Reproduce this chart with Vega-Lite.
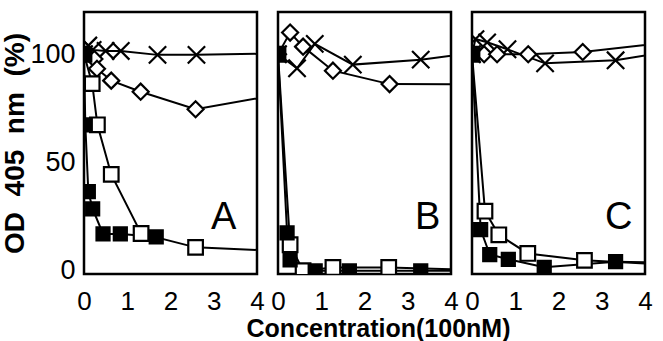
{
  "$schema": "https://vega.github.io/schema/vega-lite/v6.json",
  "background": "white",
  "padding": {"left": 0, "top": 10, "right": 10, "bottom": 5},
  "bounds": "flush",
  "config": {
    "view": {"stroke": "black", "strokeWidth": 2.5},
    "font": "Liberation Sans",
    "axis": {"grid": false, "domain": false, "ticks": false, "labelFont": "Liberation Sans", "titleFont": "Liberation Sans", "labelColor": "black", "titleColor": "black"}
  },
  "datasets": {
    "pts": [
      {"panel": "A", "series": "cross", "x": 0, "y": 100},
      {"panel": "A", "series": "cross", "x": 0.1, "y": 104},
      {"panel": "A", "series": "cross", "x": 0.2, "y": 102},
      {"panel": "A", "series": "cross", "x": 0.5, "y": 101.5},
      {"panel": "A", "series": "cross", "x": 0.85, "y": 101.5},
      {"panel": "A", "series": "cross", "x": 1.7, "y": 99.7},
      {"panel": "A", "series": "cross", "x": 2.6, "y": 99.7},
      {"panel": "A", "series": "cross", "x": 5.2, "y": 100.6},
      {"panel": "A", "series": "diamond", "x": 0, "y": 100},
      {"panel": "A", "series": "diamond", "x": 0.24, "y": 97.8},
      {"panel": "A", "series": "diamond", "x": 0.3, "y": 93.3},
      {"panel": "A", "series": "diamond", "x": 0.63, "y": 87.8},
      {"panel": "A", "series": "diamond", "x": 1.31, "y": 82.7},
      {"panel": "A", "series": "diamond", "x": 2.58, "y": 74.6},
      {"panel": "A", "series": "diamond", "x": 5.2, "y": 83.8},
      {"panel": "A", "series": "open", "x": 0, "y": 100},
      {"panel": "A", "series": "open", "x": 0.19, "y": 86.4},
      {"panel": "A", "series": "open", "x": 0.31, "y": 67.4},
      {"panel": "A", "series": "open", "x": 0.63, "y": 44.5},
      {"panel": "A", "series": "open", "x": 1.32, "y": 17.2},
      {"panel": "A", "series": "open", "x": 2.58, "y": 10.8},
      {"panel": "A", "series": "open", "x": 5.2, "y": 8.6},
      {"panel": "A", "series": "filled", "x": 0, "y": 100},
      {"panel": "A", "series": "filled", "x": 0.03, "y": 67.4},
      {"panel": "A", "series": "filled", "x": 0.1, "y": 36.5},
      {"panel": "A", "series": "filled", "x": 0.2, "y": 28.6},
      {"panel": "A", "series": "filled", "x": 0.44, "y": 17},
      {"panel": "A", "series": "filled", "x": 0.84, "y": 17},
      {"panel": "A", "series": "filled", "x": 1.67, "y": 15.7},

      {"panel": "B", "series": "cross", "x": 0, "y": 100},
      {"panel": "B", "series": "cross", "x": 0.44, "y": 93.5},
      {"panel": "B", "series": "cross", "x": 0.85, "y": 104.8},
      {"panel": "B", "series": "cross", "x": 1.73, "y": 95.2},
      {"panel": "B", "series": "cross", "x": 3.3, "y": 97.5},
      {"panel": "B", "series": "cross", "x": 6.6, "y": 106},
      {"panel": "B", "series": "diamond", "x": 0, "y": 100},
      {"panel": "B", "series": "diamond", "x": 0.28, "y": 110},
      {"panel": "B", "series": "diamond", "x": 0.58, "y": 103.5},
      {"panel": "B", "series": "diamond", "x": 1.27, "y": 92.4},
      {"panel": "B", "series": "diamond", "x": 2.58, "y": 86.2},
      {"panel": "B", "series": "diamond", "x": 5.2, "y": 86},
      {"panel": "B", "series": "open", "x": 0, "y": 100},
      {"panel": "B", "series": "open", "x": 0.28, "y": 12},
      {"panel": "B", "series": "open", "x": 0.58, "y": 0},
      {"panel": "B", "series": "open", "x": 1.27, "y": 1.5},
      {"panel": "B", "series": "open", "x": 2.56, "y": 1.5},
      {"panel": "B", "series": "open", "x": 5.2, "y": 0},
      {"panel": "B", "series": "filled", "x": 0, "y": 100},
      {"panel": "B", "series": "filled", "x": 0.21, "y": 17.5},
      {"panel": "B", "series": "filled", "x": 0.28, "y": 5},
      {"panel": "B", "series": "filled", "x": 0.86, "y": 0},
      {"panel": "B", "series": "filled", "x": 1.65, "y": 0},
      {"panel": "B", "series": "filled", "x": 3.3, "y": 0},
      {"panel": "B", "series": "filled", "x": 6.6, "y": 0},

      {"panel": "C", "series": "cross", "x": 0, "y": 100},
      {"panel": "C", "series": "cross", "x": 0.08, "y": 107},
      {"panel": "C", "series": "cross", "x": 0.35, "y": 105.5},
      {"panel": "C", "series": "cross", "x": 0.82, "y": 102.3},
      {"panel": "C", "series": "cross", "x": 1.69, "y": 95.8},
      {"panel": "C", "series": "cross", "x": 3.32, "y": 97.2},
      {"panel": "C", "series": "cross", "x": 6.6, "y": 108},
      {"panel": "C", "series": "diamond", "x": 0, "y": 100},
      {"panel": "C", "series": "diamond", "x": 0.28, "y": 100},
      {"panel": "C", "series": "diamond", "x": 0.58, "y": 100},
      {"panel": "C", "series": "diamond", "x": 1.3, "y": 100},
      {"panel": "C", "series": "diamond", "x": 2.56, "y": 101},
      {"panel": "C", "series": "diamond", "x": 5.2, "y": 107},
      {"panel": "C", "series": "open", "x": 0, "y": 100},
      {"panel": "C", "series": "open", "x": 0.3, "y": 27.5},
      {"panel": "C", "series": "open", "x": 0.62, "y": 16.6},
      {"panel": "C", "series": "open", "x": 1.29, "y": 8},
      {"panel": "C", "series": "open", "x": 2.6, "y": 4.8},
      {"panel": "C", "series": "open", "x": 5.2, "y": 2},
      {"panel": "C", "series": "filled", "x": 0, "y": 100},
      {"panel": "C", "series": "filled", "x": 0.2, "y": 19},
      {"panel": "C", "series": "filled", "x": 0.41, "y": 7.5},
      {"panel": "C", "series": "filled", "x": 0.84, "y": 5.3},
      {"panel": "C", "series": "filled", "x": 1.67, "y": 1.6},
      {"panel": "C", "series": "filled", "x": 3.32, "y": 4.2},
      {"panel": "C", "series": "filled", "x": 6.6, "y": 3}
    ]
  },
  "spacing": 21,
  "hconcat": [
    {
      "width": 173, "height": 262,
      "data": {"name": "pts"},
      "transform": [{"filter": "datum.panel === 'A'"}],
      "layer": [
        {
          "mark": {"type": "line", "color": "black", "strokeWidth": 2, "clip": true},
          "encoding": {
            "x": {"field": "x", "type": "quantitative", "scale": {"domain": [0, 4], "nice": false, "zero": false},
                  "axis": {"values": [0, 1, 2, 3, 4], "labelFontSize": 26, "labelPadding": 14, "labelFlush": false, "title": null}},
            "y": {"field": "y", "type": "quantitative", "scale": {"domain": [-1.5, 119.5], "nice": false, "zero": false},
                  "axis": {"values": [0, 50, 100], "labelFontSize": 27, "labelPadding": 9, "title": "OD\u00a0 405\u00a0 nm\u00a0 (%)", "titleFontSize": 28, "titleFontWeight": "bold", "titlePadding": 0}},
            "detail": {"field": "series"}
          }
        },
        {
          "mark": {"type": "point", "filled": true, "stroke": "black", "strokeWidth": 2.2, "opacity": 1, "clip": true},
          "encoding": {
            "x": {"field": "x", "type": "quantitative"},
            "y": {"field": "y", "type": "quantitative"},
            "shape": {"field": "series", "scale": {"domain": ["cross", "diamond", "open", "filled"], "range": ["M-1,-1L1,1M-1,1L1,-1", "diamond", "square", "square"]}, "legend": null},
            "fill": {"field": "series", "scale": {"domain": ["cross", "diamond", "open", "filled"], "range": ["white", "white", "white", "black"]}, "legend": null},
            "size": {"field": "series", "scale": {"domain": ["cross", "diamond", "open", "filled"], "range": [300, 170, 150, 180]}, "legend": null}
          }
        },
        {
          "data": {"values": [{"letter": "A"}]},
          "mark": {"type": "text", "fontSize": 38, "font": "Liberation Sans", "align": "center", "baseline": "alphabetic", "color": "black"},
          "encoding": {
            "x": {"datum": 3.23, "type": "quantitative"},
            "y": {"datum": 19.4, "type": "quantitative"},
            "text": {"field": "letter"}
          }
        }
      ]
    },
    {
      "width": 173, "height": 262,
      "data": {"name": "pts"},
      "transform": [{"filter": "datum.panel === 'B'"}],
      "layer": [
        {
          "mark": {"type": "line", "color": "black", "strokeWidth": 2, "clip": true},
          "encoding": {
            "x": {"field": "x", "type": "quantitative", "scale": {"domain": [0, 4], "nice": false, "zero": false},
                  "axis": {"values": [0, 1, 2, 3, 4], "labelFontSize": 26, "labelPadding": 14, "labelFlush": false, "title": "Concentration(100nM)", "titleFontSize": 25, "titleFontWeight": "bold", "titlePadding": 2, "titleX": 100}},
            "y": {"field": "y", "type": "quantitative", "scale": {"domain": [-1.5, 119.5], "nice": false, "zero": false}, "axis": null},
            "detail": {"field": "series"}
          }
        },
        {
          "mark": {"type": "point", "filled": true, "stroke": "black", "strokeWidth": 2.2, "opacity": 1, "clip": true},
          "encoding": {
            "x": {"field": "x", "type": "quantitative"},
            "y": {"field": "y", "type": "quantitative"},
            "shape": {"field": "series", "scale": {"domain": ["cross", "diamond", "open", "filled"], "range": ["M-1,-1L1,1M-1,1L1,-1", "diamond", "square", "square"]}, "legend": null},
            "fill": {"field": "series", "scale": {"domain": ["cross", "diamond", "open", "filled"], "range": ["white", "white", "white", "black"]}, "legend": null},
            "size": {"field": "series", "scale": {"domain": ["cross", "diamond", "open", "filled"], "range": [300, 170, 150, 180]}, "legend": null}
          }
        },
        {
          "data": {"values": [{"letter": "B"}]},
          "mark": {"type": "text", "fontSize": 38, "font": "Liberation Sans", "align": "center", "baseline": "alphabetic", "color": "black"},
          "encoding": {
            "x": {"datum": 3.46, "type": "quantitative"},
            "y": {"datum": 19.4, "type": "quantitative"},
            "text": {"field": "letter"}
          }
        }
      ]
    },
    {
      "width": 173, "height": 262,
      "data": {"name": "pts"},
      "transform": [{"filter": "datum.panel === 'C'"}],
      "layer": [
        {
          "mark": {"type": "line", "color": "black", "strokeWidth": 2, "clip": true},
          "encoding": {
            "x": {"field": "x", "type": "quantitative", "scale": {"domain": [0, 4], "nice": false, "zero": false},
                  "axis": {"values": [0, 1, 2, 3, 4], "labelFontSize": 26, "labelPadding": 14, "labelFlush": false, "title": null}},
            "y": {"field": "y", "type": "quantitative", "scale": {"domain": [-1.5, 119.5], "nice": false, "zero": false}, "axis": null},
            "detail": {"field": "series"}
          }
        },
        {
          "mark": {"type": "point", "filled": true, "stroke": "black", "strokeWidth": 2.2, "opacity": 1, "clip": true},
          "encoding": {
            "x": {"field": "x", "type": "quantitative"},
            "y": {"field": "y", "type": "quantitative"},
            "shape": {"field": "series", "scale": {"domain": ["cross", "diamond", "open", "filled"], "range": ["M-1,-1L1,1M-1,1L1,-1", "diamond", "square", "square"]}, "legend": null},
            "fill": {"field": "series", "scale": {"domain": ["cross", "diamond", "open", "filled"], "range": ["white", "white", "white", "black"]}, "legend": null},
            "size": {"field": "series", "scale": {"domain": ["cross", "diamond", "open", "filled"], "range": [300, 170, 150, 180]}, "legend": null}
          }
        },
        {
          "data": {"values": [{"letter": "C"}]},
          "mark": {"type": "text", "fontSize": 38, "font": "Liberation Sans", "align": "center", "baseline": "alphabetic", "color": "black"},
          "encoding": {
            "x": {"datum": 3.39, "type": "quantitative"},
            "y": {"datum": 19.4, "type": "quantitative"},
            "text": {"field": "letter"}
          }
        }
      ]
    }
  ]
}
